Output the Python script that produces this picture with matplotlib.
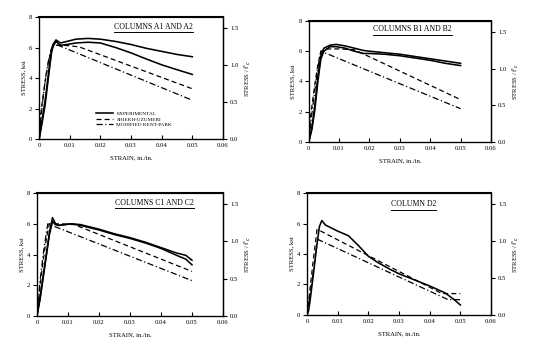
import numpy as np
import matplotlib.pyplot as plt

plt.rcParams['font.family'] = ['Liberation Serif', 'DejaVu Serif']

# ---- Columns A1 / A2 ----
expA_x = [0, 0.001, 0.002, 0.003, 0.004, 0.0045, 0.0055, 0.007, 0.009, 0.012, 0.016,
          0.02, 0.025, 0.03, 0.035, 0.04, 0.045, 0.05]
expA1_y = [0, 1.3, 2.6, 4.2, 5.8, 6.2, 6.5, 6.3, 6.4, 6.55, 6.6, 6.55, 6.4, 6.2, 5.95,
           5.75, 5.55, 5.4]
expA2_y = [0, 1.1, 2.3, 4.0, 5.6, 6.05, 6.4, 6.15, 6.2, 6.3, 6.35, 6.3, 6.0, 5.65, 5.25,
           4.87, 4.55, 4.24]
shA_x = [0, 0.0005, 0.001, 0.002, 0.003, 0.004, 0.005, 0.008, 0.013, 0.05]
shA_y = [0, 1.6, 2.4, 3.8, 5.0, 5.9, 6.15, 6.15, 6.05, 3.3]
kpA_x = [0, 0.001, 0.002, 0.003, 0.004, 0.005, 0.05]
kpA_y = [0, 2.2, 3.9, 5.1, 5.9, 6.25, 2.55]

# ---- Columns B1 / B2 ----
expB_x = [0, 0.001, 0.002, 0.003, 0.004, 0.005, 0.007, 0.009, 0.012, 0.015, 0.018,
          0.02, 0.025, 0.03, 0.035, 0.04, 0.045, 0.05]
expB1_y = [0, 0.9, 2.4, 4.3, 5.7, 6.2, 6.4, 6.45, 6.35, 6.2, 6.05, 6.0, 5.9, 5.8, 5.65,
           5.5, 5.35, 5.2]
expB2_y = [0, 0.8, 2.1, 4.0, 5.5, 6.0, 6.3, 6.3, 6.2, 6.0, 5.85, 5.85, 5.8, 5.7, 5.55,
           5.4, 5.2, 5.05]
shB_x = [0, 0.0005, 0.001, 0.002, 0.003, 0.004, 0.006, 0.01, 0.015, 0.05]
shB_y = [0, 1.5, 2.3, 3.8, 5.1, 6.0, 6.15, 6.15, 6.1, 2.8]
kpB_x = [0, 0.001, 0.002, 0.003, 0.004, 0.05]
kpB_y = [0, 1.8, 3.4, 4.9, 6.0, 2.2]

# ---- Columns C1 / C2 ----
expC_x = [0, 0.001, 0.002, 0.003, 0.004, 0.005, 0.006, 0.007, 0.009, 0.011, 0.014,
          0.02, 0.025, 0.03, 0.035, 0.04, 0.045, 0.048, 0.05]
expC1_y = [0, 1.2, 2.6, 4.0, 5.4, 6.4, 6.0, 5.9, 5.95, 6.0, 5.95, 5.65, 5.35, 5.1, 4.8,
           4.45, 4.1, 3.95, 3.63]
expC2_y = [0, 1.1, 2.5, 3.9, 5.3, 6.15, 5.95, 5.9, 5.95, 6.0, 5.9, 5.6, 5.3, 5.05, 4.75,
           4.4, 3.95, 3.7, 3.33]
shC_x = [0, 0.001, 0.002, 0.003, 0.004, 0.008, 0.012, 0.05]
shC_y = [0, 2.0, 3.6, 5.0, 6.0, 6.0, 5.95, 2.9]
kpC_x = [0, 0.001, 0.002, 0.003, 0.0035, 0.05]
kpC_y = [0, 2.3, 4.0, 5.4, 6.0, 2.3]

# ---- Column D2 ----
expD_x = [0, 0.0005, 0.001, 0.002, 0.003, 0.004, 0.0048, 0.006, 0.008, 0.01, 0.0135,
          0.017, 0.02, 0.023, 0.027, 0.03, 0.035, 0.04, 0.045, 0.048, 0.05]
expD_y = [0, 0.3, 1.0, 2.6, 4.3, 5.8, 6.2, 5.9, 5.7, 5.5, 5.2, 4.5, 3.85, 3.45, 3.0,
          2.7, 2.3, 1.9, 1.45, 1.0, 0.65]
shD_x = [0, 0.001, 0.002, 0.003, 0.0032, 0.0045, 0.044, 0.05]
shD_y = [0, 1.8, 3.6, 5.2, 5.6, 5.5, 1.4, 1.4]
kpD_x = [0, 0.001, 0.002, 0.003, 0.0036, 0.046, 0.05]
kpD_y = [0, 1.4, 2.8, 4.3, 4.95, 1.0, 1.0]

x_ticks = [0, 0.01, 0.02, 0.03, 0.04, 0.05, 0.06]
x_labels = ['0', '0.01', '0.02', '0.03', '0.04', '0.05', '0.06']
y_ticks = [0, 2, 4, 6, 8]
r_ticks = [0.0, 0.5, 1.0, 1.5]
fc = 4.85  # ksi, for the right-hand scale

fig = plt.figure(figsize=(5.36, 3.55), dpi=100)

panels = [
    ([0.073, 0.608, 0.343, 0.344], 'COLUMNS A1 AND A2', (0.62, 0.92),
     [(expA_x, expA1_y), (expA_x, expA2_y)], (shA_x, shA_y), (kpA_x, kpA_y)),
    ([0.576, 0.600, 0.340, 0.341], 'COLUMNS B1 AND B2', (0.57, 0.93),
     [(expB_x, expB1_y), (expB_x, expB2_y)], (shB_x, shB_y), (kpB_x, kpB_y)),
    ([0.069, 0.110, 0.347, 0.346], 'COLUMNS C1 AND C2', (0.63, 0.92),
     [(expC_x, expC1_y), (expC_x, expC2_y)], (shC_x, shC_y), (kpC_x, kpC_y)),
    ([0.573, 0.113, 0.343, 0.343], 'COLUMN D2', (0.58, 0.91),
     [(expD_x, expD_y)], (shD_x, shD_y), (kpD_x, kpD_y)),
]

fs = 4.8
axes = []
for i, (rect, title, tpos, exps, sh, kp) in enumerate(panels):
    ax = fig.add_axes(rect)
    for j, (ex, ey) in enumerate(exps):
        ax.plot(ex, ey, color='black', lw=1.15, label='EXPERIMENTAL' if j == 0 else None)
    ax.plot(sh[0], sh[1], color='black', lw=0.9, ls=(0, (4, 2.5)), label='SHIEKH-UZUMERI')
    ax.plot(kp[0], kp[1], color='black', lw=0.9, ls=(0, (5, 2, 1, 2)),
            label='MODIFIED KENT-PARK')
    ax.set_xlim(0, 0.06)
    ax.set_ylim(0, 8)
    ax.set_xticks(x_ticks)
    ax.set_xticklabels(x_labels)
    ax.set_yticks(y_ticks)
    ax.tick_params(axis='x', direction='in', length=3, labelsize=fs, pad=3)
    ax.tick_params(axis='y', direction='out', length=3, labelsize=fs, pad=2)
    ax.set_xlabel('STRAIN, in./in.', fontsize=fs, labelpad=5)
    ax.set_ylabel('STRESS, ksi', fontsize=fs, labelpad=2)
    for s in ax.spines.values():
        s.set_linewidth(0.9)
    ax.spines['top'].set_linewidth(1.5)

    rax = ax.twinx()
    rax.set_ylim(0, 8 / fc)
    rax.set_yticks(r_ticks)
    rax.set_yticklabels(['%.1f' % t for t in r_ticks])
    rax.tick_params(axis='y', direction='out', length=3, labelsize=fs, pad=2)
    rax.set_ylabel("STRESS / f$'_c$", fontsize=fs, labelpad=3)
    rax.spines['right'].set_linewidth(0.9)

    t = ax.text(tpos[0], tpos[1], title, transform=ax.transAxes, ha='center',
                va='center', fontsize=5.6)
    axes.append((ax, t))

    if i == 0:
        ax.legend(loc='lower left', bbox_to_anchor=(0.3, 0.08), frameon=False,
                  fontsize=3.8, handlelength=3.2, handletextpad=0.6, labelspacing=0.2,
                  borderaxespad=0)

# underline each panel title
fig.canvas.draw()
renderer = fig.canvas.get_renderer()
for ax, t in axes:
    bb = t.get_window_extent(renderer).transformed(ax.transAxes.inverted())
    yl = bb.y0 - 0.012
    ax.plot([bb.x0, bb.x1], [yl, yl], transform=ax.transAxes, color='black', lw=0.7,
            clip_on=False)

fig.savefig('out.png', dpi=100)
